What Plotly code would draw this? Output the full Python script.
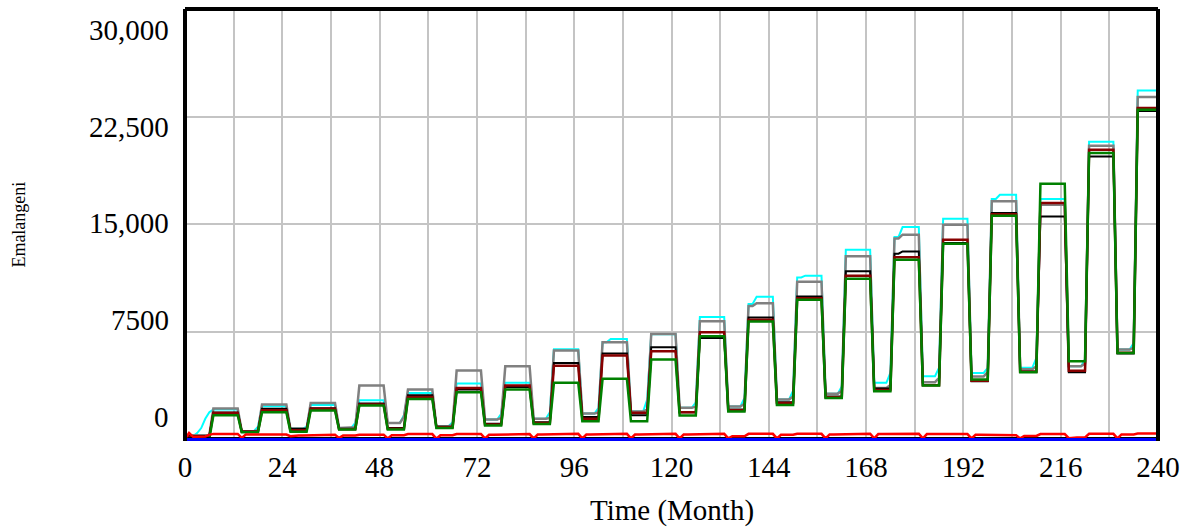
import plotly.graph_objects as go

# ---------------- data ----------------
MONTHS = list(range(0, 241))
X_TICKS = list(range(0, 241, 24))
Y_TICKS = [0, 7500, 15000, 22500, 30000]
Y_TICK_TEXT = ["0", "7500", "15,000", "22,500", "30,000"]

# Seasonal pulses: high in months 7..13 (+12k), troughs in months 14..18 (+12k);
# trough 0 is months 0..6.  *_HI = early pulse level, *_HI2 = later pulse level,
# *_LO = trough level, *_LO2 = trough level in its last month.
CYAN_START = [0, 80, 250, 450, 800, 1450, 1900]
CYAN_HI = [2100, 2320, 2415, 2740, 3250, 3900, 3950, 6300, 6780, 7330, 8545, 9450,
           11300, 13230, 14115, 15390, 16760, 16760, 20750, 24325]
CYAN_HI2 = [2100, 2320, 2415, 2740, 3250, 3900, 3950, 6300, 7010, 7330, 8545, 9950,
            11420, 13230, 14810, 15390, 17060, 16760, 20750, 24325]
CYAN_LO = [0, 580, 745, 810, 1160, 925, 1400, 1450, 1810, 1950, 2210, 2300,
           2800, 3200, 3950, 4410, 4645, 5000, 5100, 6270]
CYAN_LO2 = [0, 900, 900, 1160, 1700, 1200, 1800, 1900, 2210, 2785, 2600, 2900,
            3400, 3700, 4660, 5000, 5000, 5690, 5600, 6730]

GRAY_HI = [2159, 2437, 2555, 3760, 3480, 4805, 5105, 6200, 6780, 7360, 8240, 9300,
           11000, 12765, 14010, 14970, 16600, 16365, 20470, 23865]
GRAY_HI2 = [2159, 2437, 2555, 3760, 3480, 4805, 5105, 6200, 6780, 7360, 8240, 9500,
            11000, 12765, 14275, 14970, 16600, 16365, 20470, 23865]
GRAY_LO = [300, 580, 745, 810, 1160, 925, 1400, 1450, 1810, 1950, 2210, 2300,
           2800, 3200, 3600, 4000, 4400, 4900, 5100, 6270]
GRAY_LO2 = [300, 650, 745, 850, 1580, 1000, 1510, 1510, 1900, 2100, 2300, 2500,
            3000, 3400, 3800, 4300, 4700, 5100, 5300, 6400]

BLACK_HI = [1880, 2140, 2180, 2507, 3085, 3480, 3670, 5340, 5990, 6430, 7080, 8500,
            9960, 11720, 12950, 13700, 15790, 15550, 19730, 22900]
BLACK_HI2 = [1880, 2140, 2180, 2507, 3085, 3480, 3670, 5340, 5990, 6430, 7080, 8500,
             9960, 11720, 13110, 13700, 15790, 15550, 19730, 22900]
BLACK_LO = [250, 560, 745, 750, 810, 900, 1100, 1200, 1580, 1700, 1900, 2100,
            2600, 3000, 3550, 3800, 4060, 4750, 4690, 6000]

DKRED_HI = [1850, 2040, 2150, 2450, 2970, 3600, 3760, 5150, 5850, 6150, 7470, 8350,
            9850, 11420, 12700, 13930, 15700, 16480, 20200, 23100]
DKRED_LO = [200, 540, 650, 720, 760, 850, 1050, 1150, 1450, 1860, 1900, 2050,
            2550, 2950, 3450, 3780, 4100, 4720, 4800, 6050]

GREEN_HI = [1692, 1900, 2020, 2370, 2830, 3294, 3480, 3950, 4230, 5570, 7190, 8220,
            9750, 11210, 12535, 13650, 15600, 17830, 19965, 22980]
GREEN_LO = [50, 510, 536, 696, 696, 810, 975, 1090, 1275, 1275, 1670, 1950,
            2400, 2900, 3364, 3760, 4180, 4690, 5450, 6035]

RED_START = [50, 460, 190, 190, 190, 220, 330]
RED_HI = [395, 350, 330, 340, 380, 390, 380, 400, 400, 400, 400, 400,
          400, 410, 410, 380, 300, 380, 400, 420]
RED_LO = [190, 350, 280, 280, 300, 300, 330, 350, 350, 350, 350, 230,
          330, 360, 380, 380, 330, 250, 150, 360]
RED_DIP = [190, 115, 230, 115, 80, 60, 80, 80, 80, 80, 80, 80,
           80, 80, 80, 80, 80, 80, 100, 80]

BASE_BLACK = [90] * len(MONTHS)
BASE_BLUE = [0] * len(MONTHS)


def expand(hi, lo, hi2=None, lo2=None, start=None, dip=None):
    vals = []
    for t in MONTHS:
        if t <= 6:
            vals.append(start[t] if start is not None else lo[0])
            continue
        k, r = divmod(t - 7, 12)
        if r <= 6:
            vals.append(hi2[k] if (hi2 is not None and r >= 2) else hi[k])
        else:
            j, p = k + 1, r - 7
            if dip is not None and p == 0:
                vals.append(dip[j])
            elif lo2 is not None and p == 4:
                vals.append(lo2[j])
            else:
                vals.append(lo[j])
    return vals


series = [
    ("cyan", expand(CYAN_HI, CYAN_LO, CYAN_HI2, CYAN_LO2, start=CYAN_START), "#00ffff", 2),
    ("gray", expand(GRAY_HI, GRAY_LO, GRAY_HI2, GRAY_LO2), "#808080", 2.5),
    ("black", expand(BLACK_HI, BLACK_LO, BLACK_HI2), "#000000", 2),
    ("darkred", expand(DKRED_HI, DKRED_LO), "#880000", 2.5),
    ("green", expand(GREEN_HI, GREEN_LO), "#008000", 2.5),
    ("base black", BASE_BLACK, "#000000", 2.5),
    ("red", expand(RED_HI, RED_LO, start=RED_START, dip=RED_DIP), "#ff0000", 2.5),
    ("blue", BASE_BLUE, "#0000ff", 3),
]

fig = go.Figure()
for name, ys, color, w in series:
    fig.add_trace(go.Scatter(x=MONTHS, y=ys, mode="lines", name=name,
                             line=dict(color=color, width=w), hoverinfo="skip"))

FONT = "Liberation Serif, Times New Roman, serif"
GRID = "#c4c4c4"

fig.update_layout(
    width=1192, height=529,
    margin=dict(l=185, r=34, t=9, b=88, pad=0),
    paper_bgcolor="white", plot_bgcolor="white",
    showlegend=False,
    font=dict(family=FONT, color="black", size=29),
    xaxis=dict(range=[0, 240], tickvals=X_TICKS, ticktext=[str(v) for v in X_TICKS],
               showgrid=True, gridcolor=GRID, gridwidth=2,
               minor=dict(dtick=12, tick0=0, showgrid=True, gridcolor=GRID, gridwidth=2),
               zeroline=False, showline=False, ticks="", ticklabelstandoff=6,
               tickfont=dict(family=FONT, size=29, color="black")),
    yaxis=dict(range=[-100, 30000], tickvals=Y_TICKS, showticklabels=False,
               showgrid=True, gridcolor=GRID, gridwidth=2,
               zeroline=False, showline=False, ticks=""),
)

# frame (left, top, right)
for x0, y0, x1, y1 in [(0, 0, 0, 1), (0, 1, 1, 1), (1, 0, 1, 1)]:
    fig.add_shape(type="line", xref="paper", yref="paper", x0=x0, y0=y0, x1=x1, y1=y1,
                  line=dict(color="black", width=4), layer="above")

# y tick labels (Vensim-style spacing)
for i, (v, txt) in enumerate(zip(Y_TICKS, Y_TICK_TEXT)):
    fig.add_annotation(x=0, xref="paper", y=v, yref="y", text=txt, showarrow=False,
                       xanchor="right", yanchor="middle", xshift=-14, yshift=23 - 11 * i,
                       font=dict(family=FONT, size=29, color="black"))

fig.add_annotation(x=0.5, xref="paper", y=-0.16, yref="paper", text="Time (Month)",
                   showarrow=False, xanchor="center", yanchor="middle",
                   font=dict(family=FONT, size=29, color="black"))
fig.add_annotation(x=-0.171, xref="paper", y=0.5, yref="paper", text="Emalangeni",
                   showarrow=False, textangle=-90, xanchor="center", yanchor="middle",
                   font=dict(family=FONT, size=18, color="black"))

fig.write_html("out.html", config={"displayModeBar": False},
               post_script="document.body.style.margin='0';document.body.style.overflow='hidden';")
